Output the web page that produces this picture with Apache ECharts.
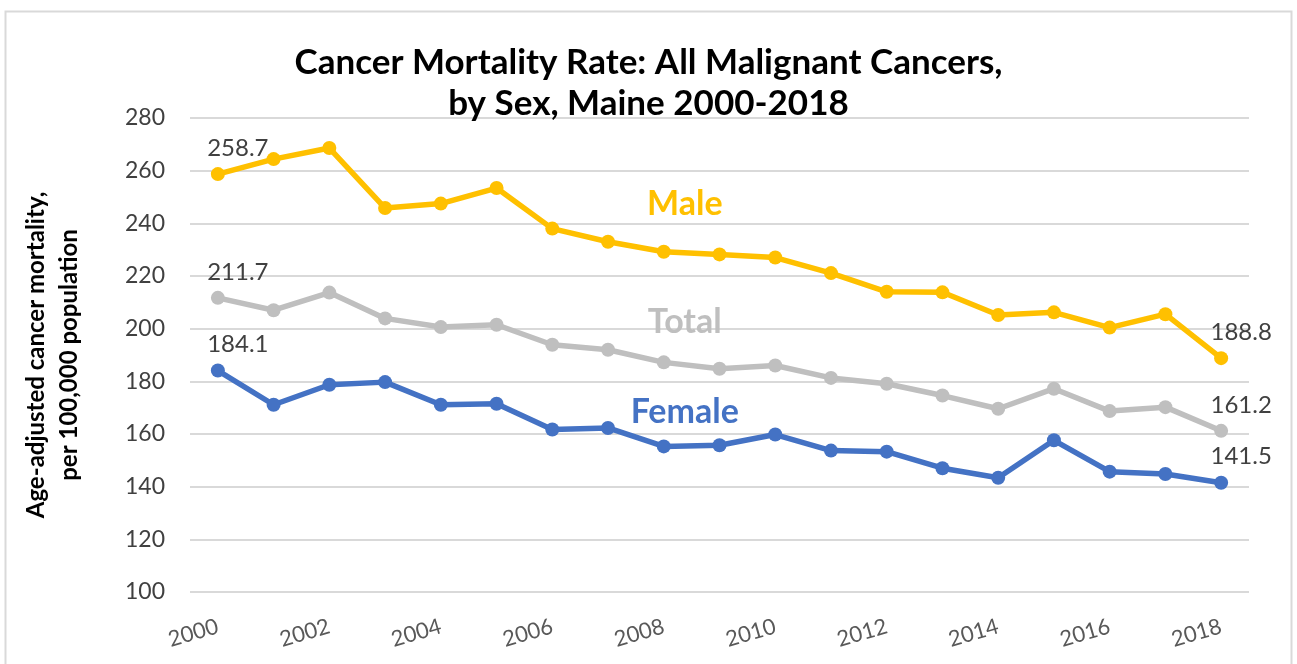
<!DOCTYPE html>
<html>
<head>
<meta charset="utf-8">
<script src="https://cdn.jsdelivr.net/npm/echarts@6/dist/echarts.min.js"></script>
<style>
html,body{margin:0;padding:0;background:#fff;}
#chart{width:1297px;height:664px;}
</style>
</head>
<body>
<div id="chart"></div>
<script>
var years = ['2000','2001','2002','2003','2004','2005','2006','2007','2008','2009','2010','2011','2012','2013','2014','2015','2016','2017','2018'];
var male = [258.7, 264.4, 268.6, 245.8, 247.5, 253.4, 238.0, 233.0, 229.2, 228.2, 227.0, 221.1, 214.0, 213.8, 205.2, 206.2, 200.4, 205.5, 188.8];
var total = [211.7, 207.0, 213.7, 203.9, 200.6, 201.5, 193.9, 192.0, 187.2, 184.8, 186.0, 181.3, 179.1, 174.6, 169.6, 177.2, 168.7, 170.2, 161.2];
var female = [184.1, 171.1, 178.7, 179.7, 171.1, 171.5, 161.7, 162.3, 155.3, 155.7, 159.8, 153.7, 153.3, 147.0, 143.4, 157.6, 145.7, 144.8, 141.5];
var seriesNames = ['Male', 'Total', 'Female'];
var seriesNamePos = [['2008', 247.4], ['2008', 202.6], ['2008', 168.4]];
var titleText = 'Cancer Mortality Rate: All Malignant Cancers,\nby Sex, Maine 2000-2018';
var yAxisTitle = 'Age-adjusted cancer mortality,\nper 100,000 population';

var FONT = 'Lato';
var colors = ['#FFC000', '#BFBFBF', '#4472C4'];
var lastIdx = years.length - 1;

function makeSeries(name, data, color, namePos) {
  return {
    name: name,
    type: 'line',
    data: data,
    color: color,
    symbol: 'circle',
    symbolSize: 14,
    lineStyle: {width: 5.5, color: color},
    itemStyle: {color: color},
    z: name === 'Total' ? 2 : 3,
    label: {
      show: true,
      position: 'top',
      distance: 7,
      offset: [20, 0],
      color: '#404040',
      fontFamily: FONT,
      fontSize: 24,
      formatter: function (p) {
        return (p.dataIndex === 0 || p.dataIndex === lastIdx) ? p.value.toFixed(1) : '';
      }
    },
    markPoint: {
      symbol: 'circle',
      symbolSize: 0,
      silent: true,
      data: [{
        coord: namePos,
        label: {
          show: true,
          position: 'inside',
          offset: [21, 0],
          formatter: name,
          color: color,
          fontFamily: FONT,
          fontWeight: 'bold',
          fontSize: 34
        }
      }]
    }
  };
}

var chart = echarts.init(document.getElementById('chart'), null, {renderer: 'canvas'});
chart.setOption({
  animation: false,
  backgroundColor: '#ffffff',
  title: {
    text: titleText,
    left: 'center',
    top: 37,
    textStyle: {
      fontFamily: FONT,
      fontWeight: 'bold',
      fontSize: 35,
      lineHeight: 41,
      color: '#000000'
    }
  },
  graphic: [{
    type: 'rect',
    shape: {x: 5.5, y: 11.5, width: 1286, height: 680},
    style: {fill: 'none', stroke: '#D9D9D9', lineWidth: 2},
    silent: true,
    z: -1
  }],
  grid: {left: 190, right: 48, top: 118, bottom: 72},
  xAxis: {
    type: 'category',
    data: years,
    boundaryGap: true,
    axisLine: {show: false},
    axisTick: {show: false},
    axisLabel: {
      interval: 1,
      rotate: 16,
      margin: 34,
      color: '#595959',
      fontFamily: FONT,
      fontSize: 22
    }
  },
  yAxis: {
    type: 'value',
    min: 100,
    max: 280,
    interval: 20,
    name: yAxisTitle,
    nameLocation: 'middle',
    nameGap: 104,
    nameRotate: 90,
    nameTextStyle: {
      fontFamily: FONT,
      fontWeight: 'bold',
      fontSize: 24,
      lineHeight: 33,
      color: '#000000'
    },
    axisLine: {show: false},
    axisTick: {show: false},
    axisLabel: {
      margin: 25,
      color: '#404040',
      fontFamily: FONT,
      fontSize: 23
    },
    splitLine: {lineStyle: {color: '#D9D9D9', width: 2}}
  },
  series: [
    makeSeries(seriesNames[1], total, colors[1], seriesNamePos[1]),
    makeSeries(seriesNames[0], male, colors[0], seriesNamePos[0]),
    makeSeries(seriesNames[2], female, colors[2], seriesNamePos[2])
  ]
});
</script>
</body>
</html>
